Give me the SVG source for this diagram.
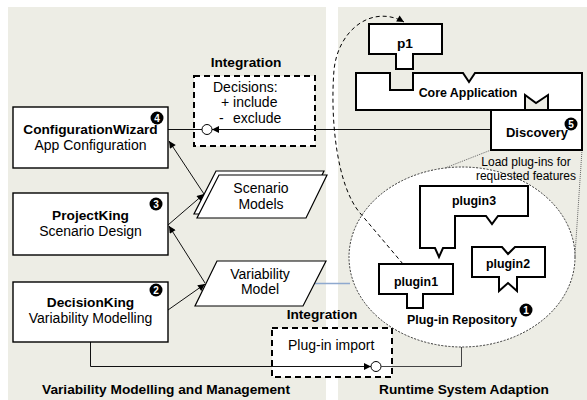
<svg xmlns="http://www.w3.org/2000/svg" width="587" height="400" viewBox="0 0 587 400">
<style>
text{font-family:"Liberation Sans",Arial,sans-serif;fill:#000}
.n{font-size:14px}
.b{font-size:13.7px;font-weight:bold}
.bs{font-size:12.4px;font-weight:bold}
.s{font-size:12px}
.box{fill:#fff;stroke:#000;stroke-width:1.4}
.para{fill:#fff;stroke:#000;stroke-width:1.2}
.thk{fill:#fff;stroke:#000;stroke-width:2}
.dbox{fill:#fff;stroke:#000;stroke-width:2;stroke-dasharray:6 4}
.line{fill:none;stroke:#111;stroke-width:1}
.badge{fill:#000}
.bt{font-size:10px;font-weight:bold;fill:#fff}
</style>
<defs>
<marker id="ah" viewBox="0 0 10 10" refX="10" refY="5" markerWidth="9" markerHeight="7" markerUnits="userSpaceOnUse" orient="auto">
<path d="M0,0 L10,5 L0,10 Z" fill="#000"/>
</marker>
</defs>
<rect width="587" height="400" fill="#fff"/>
<rect x="8" y="7" width="318" height="393" fill="#EDEDE5"/>
<rect x="338" y="7" width="249" height="393" fill="#EDEDE5"/>

<g id="panel-titles">
<text class="b" x="166" y="394" text-anchor="middle">Variability Modelling and Management</text>
<text class="b" x="464" y="394" text-anchor="middle">Runtime System Adaption</text>
</g>

<g id="integration-top">
<text class="b" x="246" y="67" text-anchor="middle">Integration</text>
<rect class="dbox" x="194" y="76" width="121" height="70"/>
<text class="n" x="213" y="92">Decisions:</text>
<text class="n" x="221" y="107">+ include</text>
<text class="n" y="123"><tspan x="219">-</tspan><tspan x="233">exclude</tspan></text>
</g>

<g id="integration-bottom">
<text class="b" x="322" y="319" text-anchor="middle">Integration</text>
<rect class="dbox" x="272" y="328" width="120" height="49"/>
<text class="n" x="288" y="350">Plug-in import</text>
</g>

<g id="repository">
<ellipse cx="462" cy="257" rx="113" ry="90" fill="#fff" stroke="#333" stroke-width="1" stroke-dasharray="2 1.5"/>
<text class="bs" x="462" y="324" text-anchor="middle">Plug-in Repository</text>
<circle class="badge" cx="526" cy="310" r="6.5"/>
<text class="bt" x="526" y="313.5" text-anchor="middle">1</text>
</g>

<g id="connectors">
<line class="line" x1="168" y1="129.5" x2="202" y2="129.5"/>
<line class="line" x1="491" y1="129.5" x2="212" y2="129.5" marker-end="url(#ah)"/>
<circle cx="207" cy="129.5" r="5" fill="#fff" stroke="#000" stroke-width="1"/>
<line class="line" x1="204" y1="194" x2="169" y2="141" marker-end="url(#ah)"/>
<line class="line" x1="168" y1="225" x2="204" y2="194" marker-end="url(#ah)"/>
<line class="line" x1="205" y1="283" x2="169" y2="226" marker-end="url(#ah)"/>
<line class="line" x1="168" y1="310" x2="205" y2="284" marker-end="url(#ah)"/>
<polyline class="line" points="90.5,342 90.5,366.5 371,366.5" marker-end="url(#ah)"/>
<circle cx="376" cy="366.5" r="5" fill="#fff" stroke="#000" stroke-width="1"/>
<polyline points="381,366.5 461.5,366.5 461.5,347" fill="none" stroke="#444" stroke-width="1"/>
<line x1="313" y1="283.5" x2="350" y2="283.5" stroke="#8EA9CF" stroke-width="1.5"/>
<line x1="491" y1="150" x2="445" y2="168" stroke="#666" stroke-width="1" stroke-dasharray="1 1"/>
<line x1="582" y1="150" x2="575" y2="255" stroke="#666" stroke-width="1" stroke-dasharray="1 1"/>
<path d="M403,264 L360,213 C337,186 330,120 334,70 C338,30 372,4 404,22" fill="none" stroke="#000" stroke-width="1" stroke-dasharray="4 3" marker-end="url(#ah)"/>
</g>

<g id="configurationwizard">
<rect class="box" x="13" y="107" width="155" height="61"/>
<text class="b" x="90.5" y="134" text-anchor="middle">ConfigurationWizard</text>
<text class="n" x="90.5" y="150" text-anchor="middle">App Configuration</text>
<circle class="badge" cx="157" cy="118" r="6.5"/>
<text class="bt" x="157" y="121.5" text-anchor="middle">4</text>
</g>

<g id="projectking">
<rect class="box" x="13" y="193" width="155" height="62"/>
<text class="b" x="90.5" y="220" text-anchor="middle">ProjectKing</text>
<text class="n" x="90.5" y="236" text-anchor="middle">Scenario Design</text>
<circle class="badge" cx="156" cy="204" r="6.5"/>
<text class="bt" x="156" y="207.5" text-anchor="middle">3</text>
</g>

<g id="decisionking">
<rect class="box" x="13" y="282" width="155" height="60"/>
<text class="b" x="90.5" y="307" text-anchor="middle">DecisionKing</text>
<text class="n" x="90.5" y="323" text-anchor="middle">Variability Modelling</text>
<circle class="badge" cx="156" cy="290" r="6.5"/>
<text class="bt" x="156" y="293.5" text-anchor="middle">2</text>
</g>

<g id="scenario-models">
<polygon class="para" points="216,171 324,171 303,214 194,214"/>
<polygon class="para" points="219,175 327,175 306,218 197,218"/>
<text class="n" x="261" y="193" text-anchor="middle">Scenario</text>
<text class="n" x="261" y="209" text-anchor="middle">Models</text>
</g>

<g id="variability-model">
<polygon class="para" points="217,261 326,261 303,306 195,306"/>
<text class="n" x="260" y="279" text-anchor="middle">Variability</text>
<text class="n" x="260" y="294" text-anchor="middle">Model</text>
</g>

<g id="p1">
<polygon class="thk" points="369,24 442,24 442,54 413,54 413,69 396,69 396,54 369,54"/>
<text class="b" x="405" y="48" text-anchor="middle">p1</text>
</g>

<g id="core-application">
<polygon class="thk" points="356,73 390,73 390,90 413,90 413,73 463,73 469,82 475,73 582,73 582,110 548,110 548,95 536,103 525,95 525,110 356,110"/>
<text class="bs" x="468" y="97" text-anchor="middle">Core Application</text>
</g>

<g id="discovery">
<rect class="thk" x="491" y="110" width="91" height="40"/>
<text class="b" x="537" y="137" text-anchor="middle" style="font-size:13px">Discovery</text>
<circle class="badge" cx="571" cy="124" r="6.5"/>
<text class="bt" x="571" y="127.5" text-anchor="middle">5</text>
</g>

<g id="load-label">
<text class="s" x="526" y="166" text-anchor="middle">Load plug-ins for</text>
<text class="s" x="526" y="180" text-anchor="middle">requested features</text>
</g>

<g id="plugin3">
<polygon class="thk" points="420,186 528,186 528,216 498,216 492,224 486,216 455,216 455,248 443,248 439,257 435,248 420,248"/>
<text class="bs" x="474" y="205" text-anchor="middle">plugin3</text>
</g>

<g id="plugin1">
<polygon class="thk" points="379,264 453,264 453,294 423,294 423,308 407,308 407,294 379,294"/>
<text class="bs" x="416" y="286" text-anchor="middle">plugin1</text>
</g>

<g id="plugin2">
<polygon class="thk" points="472,247 502,247 508,254 515,247 545,247 545,277 517,277 517,291 508,283 499,291 499,277 472,277"/>
<text class="bs" x="508" y="268" text-anchor="middle">plugin2</text>
</g>
</svg>
